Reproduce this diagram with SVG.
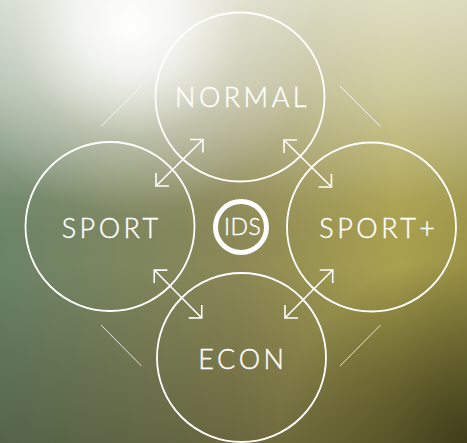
<svg xmlns="http://www.w3.org/2000/svg" width="467" height="443" viewBox="0 0 467 443">
  <defs>
    <linearGradient id="bgH" x1="0" y1="0" x2="1" y2="0">
      <stop offset="0" stop-color="#6b8468"/>
      <stop offset="0.5" stop-color="#8c8856"/>
      <stop offset="0.85" stop-color="#aaa14e"/>
      <stop offset="1" stop-color="#9e9648"/>
    </linearGradient>
    <linearGradient id="bgV" x1="0" y1="0" x2="0" y2="1">
      <stop offset="0" stop-color="#f4f6ee" stop-opacity="0.72"/>
      <stop offset="0.2" stop-color="#f4f6ee" stop-opacity="0.5"/>
      <stop offset="0.45" stop-color="#ffffff" stop-opacity="0.05"/>
      <stop offset="0.6" stop-color="#2a2814" stop-opacity="0"/>
      <stop offset="1" stop-color="#2a2814" stop-opacity="0.35"/>
    </linearGradient>
    <radialGradient id="glow" cx="130" cy="25" r="190" gradientUnits="userSpaceOnUse">
      <stop offset="0" stop-color="#ffffff" stop-opacity="1"/>
      <stop offset="0.25" stop-color="#ffffff" stop-opacity="0.8"/>
      <stop offset="0.6" stop-color="#ffffff" stop-opacity="0.25"/>
      <stop offset="1" stop-color="#ffffff" stop-opacity="0"/>
    </radialGradient>
    <radialGradient id="dark" cx="467" cy="443" r="190" gradientUnits="userSpaceOnUse">
      <stop offset="0" stop-color="#22220c" stop-opacity="0.65"/>
      <stop offset="1" stop-color="#22220c" stop-opacity="0"/>
    </radialGradient>
    <marker id="head" viewBox="-15 -15 30 30" refX="0" refY="0" markerWidth="30" markerHeight="30" markerUnits="userSpaceOnUse" orient="auto-start-reverse">
      <path d="M-9.2,-9.2 L0,0 L-9.2,9.2" fill="none" stroke="#ffffff" stroke-width="1.6"/>
    </marker>
  </defs>
  <style>
    .ring { fill: none; stroke: #ffffff; stroke-width: 1.8; }
    .lbl { font-family: Lato, "Open Sans", "Liberation Sans", sans-serif; font-weight: 300; fill: #ffffff; stroke: #ffffff; stroke-width: 0.4; font-size: 27px; }
    .arr { stroke: #ffffff; stroke-width: 1.6; fill: none; marker-start: url(#head); marker-end: url(#head); }
    .deco { stroke: #ffffff; stroke-width: 1; stroke-opacity: 0.8; }
  </style>
  <g id="background">
    <rect width="467" height="443" fill="url(#bgH)"/>
    <rect width="467" height="443" fill="url(#bgV)"/>
    <rect width="467" height="443" fill="url(#glow)"/>
    <rect width="467" height="443" fill="url(#dark)"/>
  </g>
  <g id="decor">
    <line class="deco" x1="101" y1="126.5" x2="141.5" y2="86"/>
    <line class="deco" x1="340" y1="86" x2="380.5" y2="126.5"/>
    <line class="deco" x1="101" y1="325" x2="141.5" y2="366"/>
    <line class="deco" x1="340" y1="366" x2="380.5" y2="325"/>
  </g>
  <g id="node-normal">
    <circle class="ring" cx="240" cy="97" r="84.5"/>
    <text class="lbl" x="175" y="106.7" textLength="131.5" lengthAdjust="spacing">NORMAL</text>
  </g>
  <g id="node-sport">
    <circle class="ring" cx="110" cy="226.5" r="84.5"/>
    <text class="lbl" x="61.7" y="238.3" textLength="96.5" lengthAdjust="spacing">SPORT</text>
  </g>
  <g id="node-sportplus">
    <circle class="ring" cx="371.5" cy="227" r="84.5"/>
    <text class="lbl" x="319.3" y="237.8" textLength="115.7" lengthAdjust="spacing">SPORT+</text>
  </g>
  <g id="node-econ">
    <circle class="ring" cx="241.5" cy="357.5" r="84.5"/>
    <text class="lbl" x="198.3" y="369" textLength="85.7" lengthAdjust="spacing">ECON</text>
  </g>
  <g id="node-ids">
    <circle cx="241" cy="227" r="25.5" fill="none" stroke="#ffffff" stroke-width="5"/>
    <text class="lbl" x="224" y="235" textLength="36.7" lengthAdjust="spacing" style="font-size:23px">IDS</text>
  </g>
  <g id="connectors">
    <line class="arr" x1="156" y1="186" x2="203" y2="139.5"/>
    <line class="arr" x1="284" y1="140" x2="331.5" y2="187"/>
    <line class="arr" x1="154.3" y1="270" x2="201.7" y2="318"/>
    <line class="arr" x1="285" y1="318" x2="332.7" y2="270"/>
  </g>
</svg>
